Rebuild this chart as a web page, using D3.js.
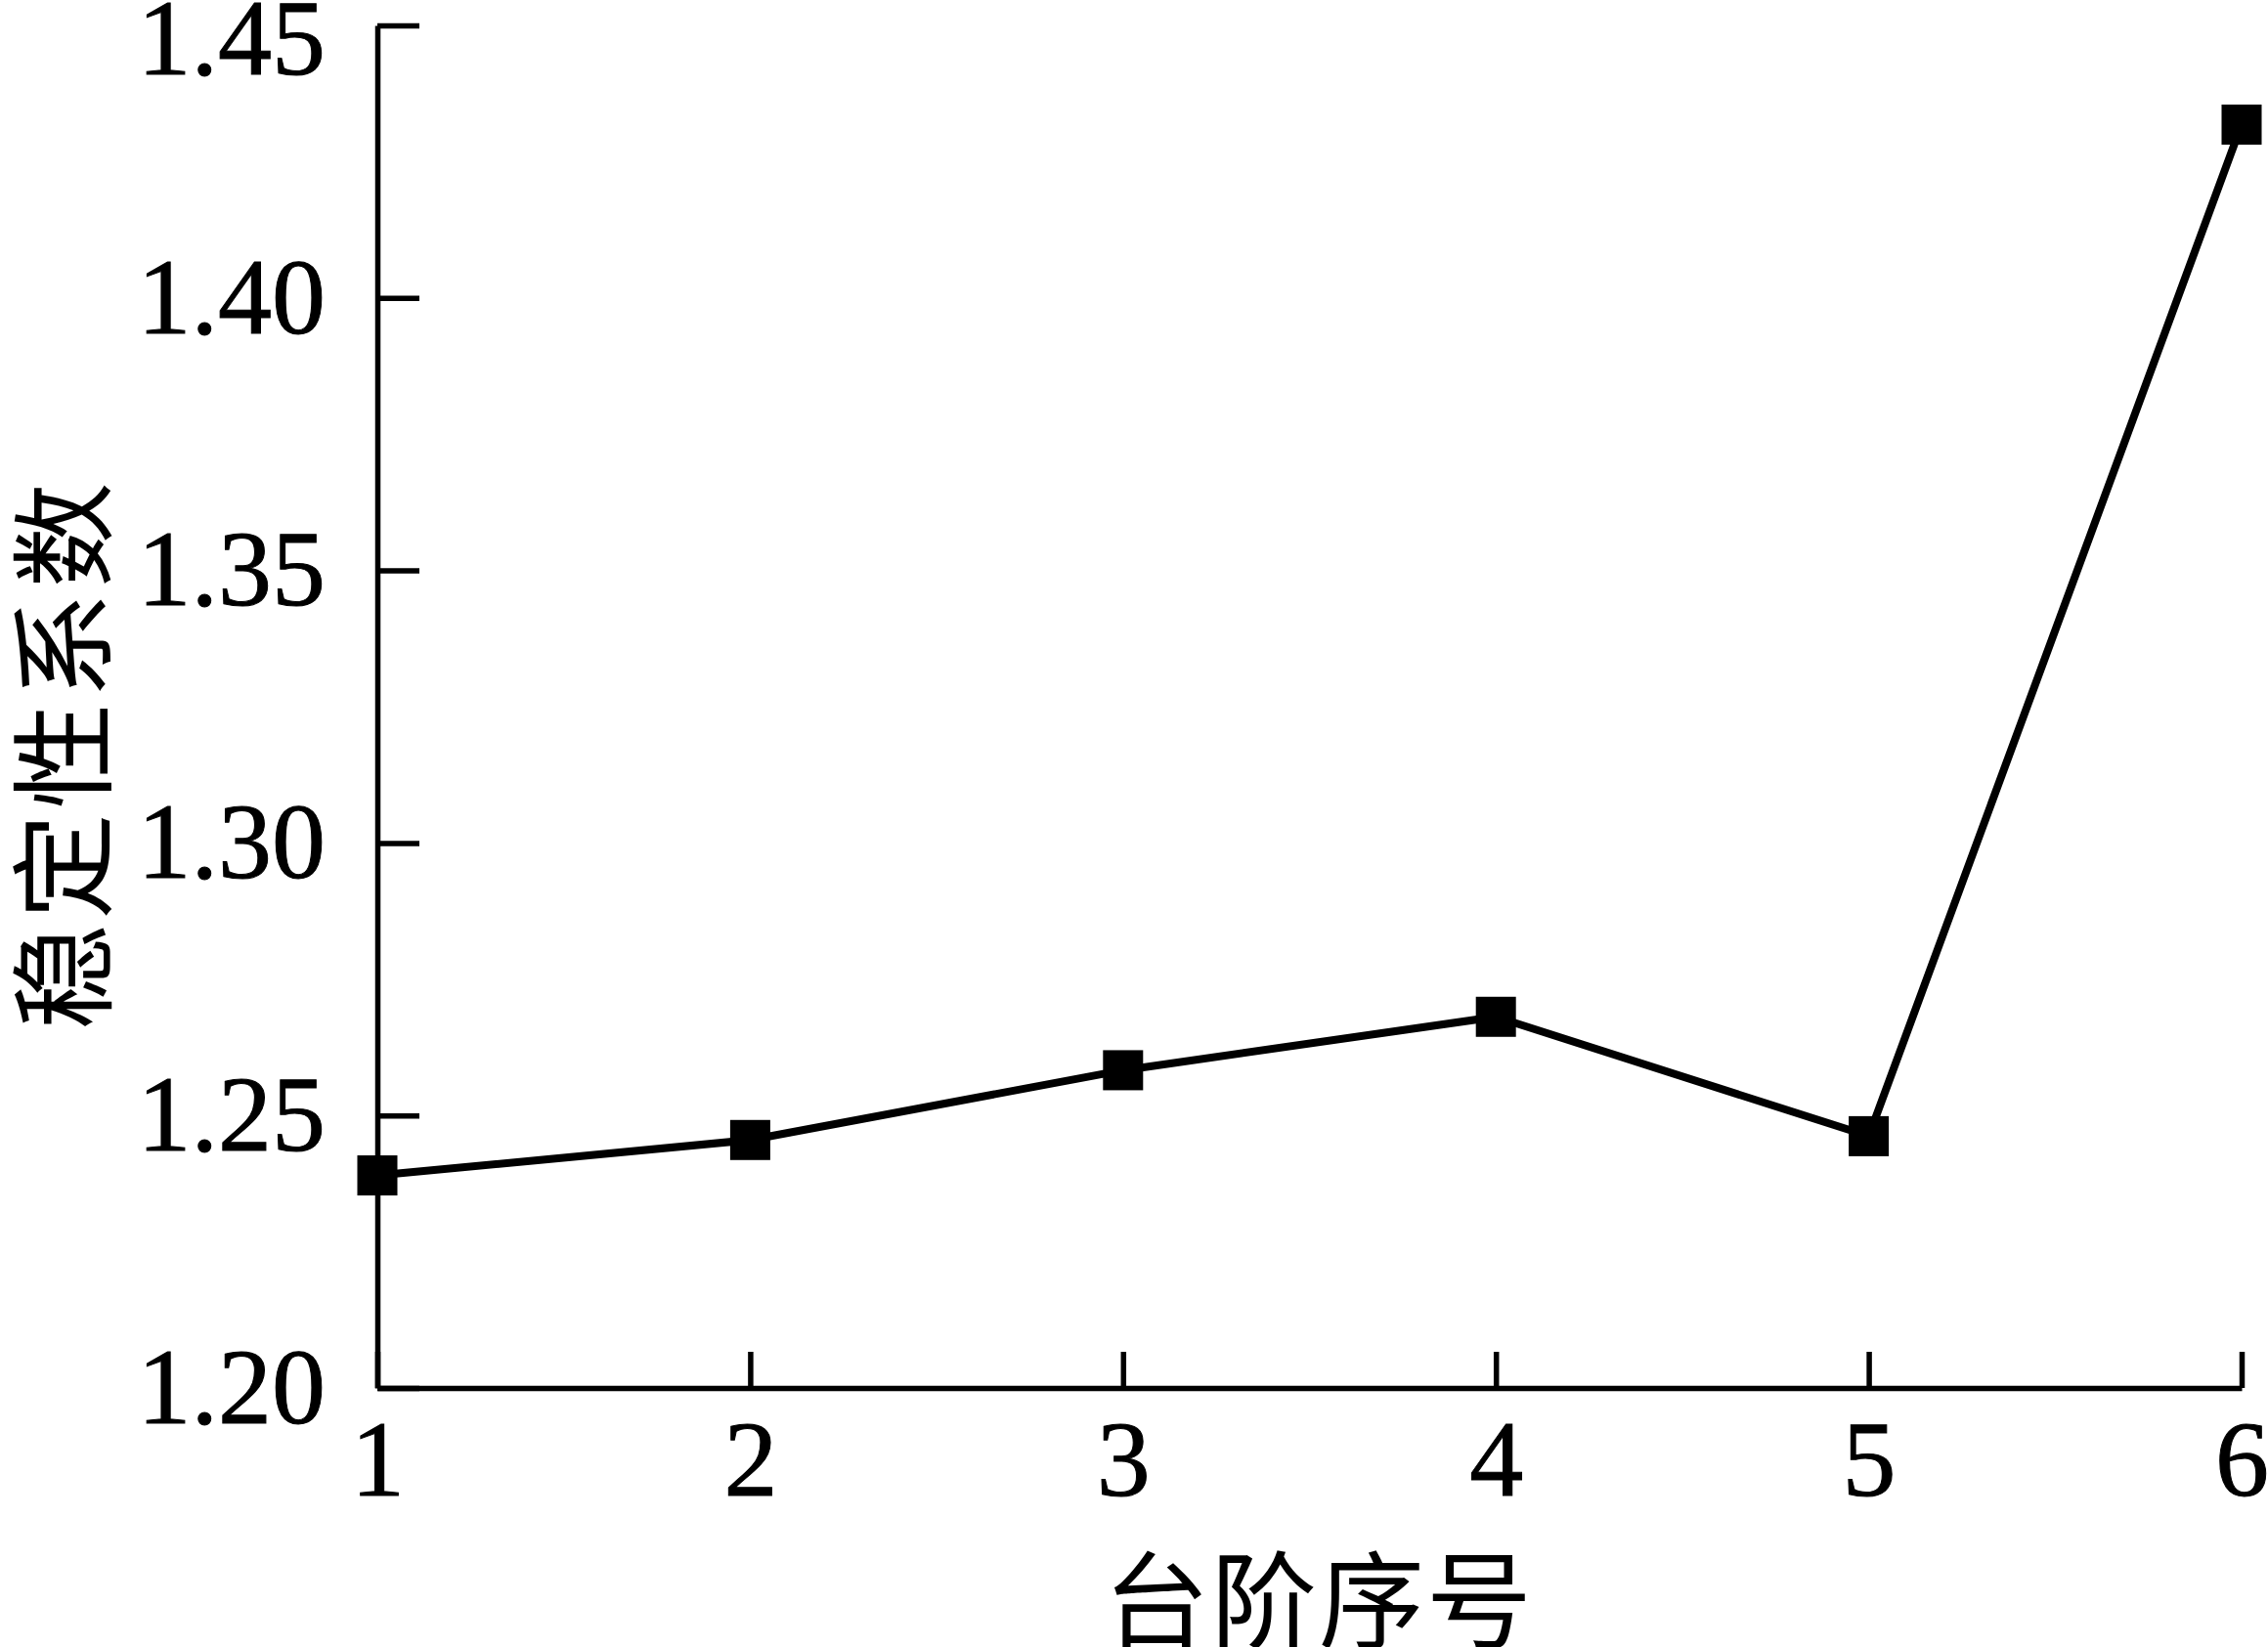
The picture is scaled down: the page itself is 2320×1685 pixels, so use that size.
<!DOCTYPE html>
<html>
<head>
<meta charset="utf-8">
<script src="https://cdn.jsdelivr.net/npm/d3@7"></script>
<style>
  body { margin: 0; background: #fff; }
  svg { display: block; }
</style>
</head>
<body>
<div id="chart"></div>
<script>
// step number vs stability coefficient
const steps = [1, 2, 3, 4, 5, 6];
const factor = [1.239, 1.2455, 1.2583, 1.2681, 1.2462, 1.4318];
const yTicks = [1.20, 1.25, 1.30, 1.35, 1.40, 1.45];
const xTitle = "台阶序号";
const yTitle = "稳定性系数";

const W = 2320, H = 1685;
const MARGIN = { TOP: 26, BOTTOM: 265, LEFT: 386, RIGHT: 27 };

const svg = d3.select("#chart")
    .append("svg")
    .attr("width", W)
    .attr("height", H);

const x = d3.scaleLinear()
    .domain([1, 6])
    .range([MARGIN.LEFT, W - MARGIN.RIGHT]);

const y = d3.scaleLinear()
    .domain([1.20, 1.45])
    .range([H - MARGIN.BOTTOM, MARGIN.TOP]);

const serif = "'Liberation Serif', 'Times New Roman', serif";
const cjk = "'Noto Sans CJK SC', sans-serif";

// x axis, ticks pointing inward
const xAxis = svg.append("g")
    .attr("transform", "translate(0," + (H - MARGIN.BOTTOM) + ")")
    .call(d3.axisBottom(x).tickValues(steps).tickSize(-37).tickSizeOuter(0).tickPadding(32).tickFormat(d3.format("d")));

// y axis
const yAxis = svg.append("g")
    .attr("transform", "translate(" + MARGIN.LEFT + ",0)")
    .call(d3.axisLeft(y).tickValues(yTicks).tickSize(-43).tickSizeOuter(0).tickPadding(53).tickFormat(d3.format(".2f")));

[xAxis, yAxis].forEach(g => {
    g.selectAll("path, line").attr("stroke", "#000").attr("stroke-width", 5.5);
    g.selectAll("text")
        .attr("fill", "#000")
        .style("font-family", serif)
        .style("font-size", "110px")
        .style("stroke", "#000")
        .style("stroke-width", "1px");
});

// keep the top label inside the picture
yAxis.selectAll(".tick text")
    .filter(d => d === 1.45)
    .attr("dy", "0.45em");

// axis titles
svg.append("text")
    .attr("x", 1349)
    .attr("y", 1678)
    .attr("text-anchor", "middle")
    .style("font-family", cjk)
    .style("font-size", "108px")
    .style("letter-spacing", "2px")
    .text(xTitle);

svg.append("text")
    .attr("transform", "translate(105,771) rotate(-90)")
    .attr("text-anchor", "middle")
    .style("font-family", cjk)
    .style("font-size", "108px")
    .style("letter-spacing", "5px")
    .text(yTitle);

const data = steps.map((s, i) => ({ s: s, v: factor[i] }));

const line = d3.line()
    .x(d => x(d.s))
    .y(d => y(d.v));

svg.append("path")
    .datum(data)
    .attr("d", line)
    .attr("fill", "none")
    .attr("stroke", "#000")
    .attr("stroke-width", 8);

const size = 41;
svg.selectAll("rect.marker")
    .data(data)
    .enter().append("rect")
    .attr("class", "marker")
    .attr("x", d => x(d.s) - size / 2)
    .attr("y", d => y(d.v) - size / 2)
    .attr("width", size)
    .attr("height", size)
    .attr("fill", "#000");
</script>
</body>
</html>
